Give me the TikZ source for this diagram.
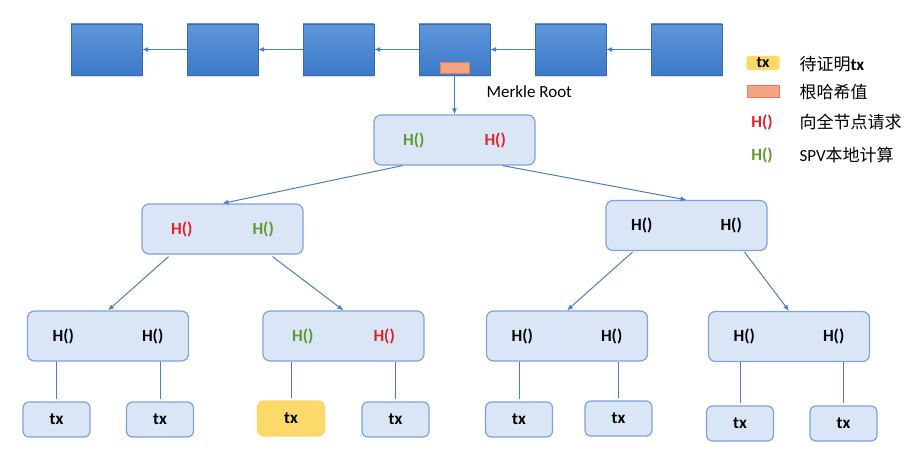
\documentclass[tikz,border=0pt]{standalone}
\usepackage{fontspec}
\setmainfont{Carlito}
\newfontfamily\cjk{Noto Sans CJK SC}
\usetikzlibrary{calc,shadows,arrows.meta}

\definecolor{blocktop}{RGB}{94,150,218}
\definecolor{blockbot}{RGB}{60,121,200}
\definecolor{blockline}{RGB}{58,106,172}
\definecolor{boxfill}{RGB}{218,230,245}
\definecolor{boxline}{RGB}{127,162,218}
\definecolor{linkblue}{RGB}{74,125,196}
\definecolor{txyellow}{RGB}{253,216,106}
\definecolor{rootfill}{RGB}{244,163,133}
\definecolor{rootline}{RGB}{226,128,92}
\definecolor{hred}{RGB}{230,30,40}
\definecolor{hgreen}{RGB}{90,154,47}

\newcommand{\hcall}[1]{\textcolor{#1}{\textbf{H()}}}

\begin{document}
\begin{tikzpicture}[
    x=1pt, y=-1pt,
    font=\fontsize{17}{20}\selectfont,
    block/.style={draw=blockline, top color=blocktop, bottom color=blockbot,
        minimum width=71, minimum height=51, inner sep=0,
        drop shadow={shadow xshift=0pt, shadow yshift=-2pt, opacity=0.25}},
    rootmark/.style={draw=rootline, fill=rootfill, minimum width=29, minimum height=11, inner sep=0},
    hbox/.style={draw=boxline, fill=boxfill, line width=1.2pt, rounded corners=7,
        minimum width=161, minimum height=50, inner sep=0},
    txbox/.style={draw=boxline, fill=boxfill, line width=1.2pt, rounded corners=6,
        minimum width=67, minimum height=35, inner sep=0, font=\fontsize{17}{20}\selectfont\bfseries},
    txgold/.style={txbox, draw=txyellow, fill=txyellow},
    arrow/.style={-{Latex[length=6pt,width=5pt]}, draw=linkblue, line width=1pt},
    link/.style={draw=linkblue, line width=1pt}
]
\useasboundingbox (0,0) rectangle (917,449);

% Block chain
\node[block] (B1) at (106.5,49.5) {};
\node[block] (B2) at (222.5,49.5) {};
\node[block] (B3) at (338.5,49.5) {};
\node[block] (B4) at (454.5,49.5) {};
\node[block] (B5) at (570.5,49.5) {};
\node[block] (B6) at (686.5,49.5) {};
\node[rootmark] (MR) at (454.5,67.5) {};

\draw[arrow] (B2.west) -- (B1.east);
\draw[arrow] (B3.west) -- (B2.east);
\draw[arrow] (B4.west) -- (B3.east);
\draw[arrow] (B5.west) -- (B4.east);
\draw[arrow] (B6.west) -- (B5.east);

\node[anchor=west] (MRlabel) at (483,92) {Merkle Root};

% Merkle tree
\node[hbox] (root) at (454.5,140) {\hcall{hgreen}\hspace{60pt}\hcall{hred}};
\node[hbox] (L) at (222.5,229) {\hcall{hred}\hspace{60pt}\hcall{hgreen}};
\node[hbox] (R) at (686.5,225.5) {\hcall{black}\hspace{68pt}\hcall{black}};

\node[hbox] (LL) at (108,336) {\hcall{black}\hspace{68pt}\hcall{black}};
\node[hbox] (LR) at (343.5,336) {\hcall{hgreen}\hspace{60pt}\hcall{hred}};
\node[hbox] (RL) at (567,336) {\hcall{black}\hspace{68pt}\hcall{black}};
\node[hbox] (RR) at (789,336.5) {\hcall{black}\hspace{68pt}\hcall{black}};

\draw[arrow] (MR.south) -- (root.north);
\draw[arrow] ($(root.south)+(-52,0)$) -- (L.north);
\draw[arrow] ($(root.south)+(48,0)$) -- (R.north);
\draw[arrow] ($(L.south)+(-54,2)$) -- (LL.north);
\draw[arrow] ($(L.south)+(50,2)$) -- (LR.north);
\draw[arrow] ($(R.south)+(-54,1)$) -- (RL.north);
\draw[arrow] ($(R.south)+(58,1)$) -- (RR.north);

% Transactions
\node[txbox] (T1) at (56.5,419.5) {tx};
\node[txbox] (T2) at (160,419.5) {tx};
\node[txgold] (T3) at (291,418.5) {tx};
\node[txbox] (T4) at (395.5,419.5) {tx};
\node[txbox] (T5) at (519,419.5) {tx};
\node[txbox] (T6) at (618.5,418.5) {tx};
\node[txbox] (T7) at (740,423.5) {tx};
\node[txbox] (T8) at (843.5,423.5) {tx};

\draw[link] ($(T1.north)+(0,-2)$) -- (T1.north |- LL.south);
\draw[link] ($(T2.north)+(0,-2)$) -- (T2.north |- LL.south);
\draw[link] ($(T3.north)+(0,-2)$) -- (T3.north |- LR.south);
\draw[link] ($(T4.north)+(0,-2)$) -- (T4.north |- LR.south);
\draw[link] ($(T5.north)+(0,-2)$) -- (T5.north |- RL.south);
\draw[link] ($(T6.north)+(0,-2)$) -- (T6.north |- RL.south);
\draw[link] ($(T7.north)+(0,-2)$) -- (T7.north |- RR.south);
\draw[link] ($(T8.north)+(0,-2)$) -- (T8.north |- RR.south);

% Legend
\node[txgold, minimum width=32, minimum height=13, rounded corners=2,
    font=\fontsize{16}{16}\selectfont\bfseries] (keyTx) at (763,63) {tx};
\node[anchor=west] (keyTxText) at (796,64) {{\cjk 待证明}\textbf{tx}};
\node[rootmark, minimum width=32, minimum height=12] (keyRoot) at (763,91.5) {};
\node[anchor=west] (keyRootText) at (796,92) {\cjk 根哈希值};
\node (keyRed) at (762,122) {\hcall{hred}};
\node[anchor=west] (keyRedText) at (796,122) {\cjk 向全节点请求};
\node (keyGreen) at (762,155) {\hcall{hgreen}};
\node[anchor=west] (keyGreenText) at (796,155) {SPV{\cjk 本地计算}};

\end{tikzpicture}
\end{document}
